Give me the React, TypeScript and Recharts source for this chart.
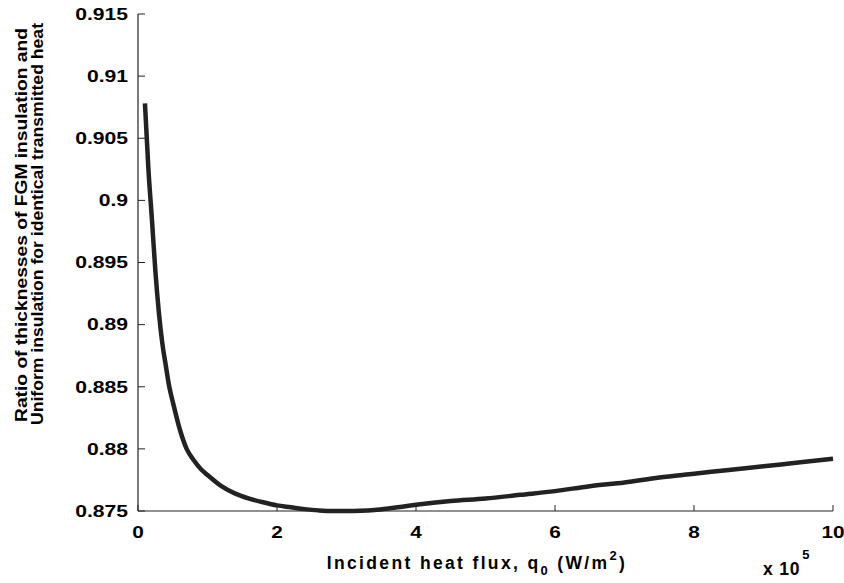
import React from "react";
import { LineChart, Line, XAxis, YAxis, Label } from "recharts";

// incident heat flux (x 10^5 W/m^2)
const fluxValues = [
  0.1, 0.15, 0.2, 0.25, 0.3, 0.35, 0.4, 0.45, 0.5, 0.6, 0.7, 0.8, 0.9, 1.0,
  1.2, 1.4, 1.6, 1.8, 2.0, 2.2, 2.4, 2.6, 2.8, 3.0, 3.2, 3.4, 3.6, 3.8, 4.0,
  4.5, 5.0, 5.5, 6.0, 6.5, 7.0, 7.5, 8.0, 8.5, 9.0, 9.5, 10.0,
];

// thickness ratio FGM / uniform
const ratioValues = [
  0.9078, 0.9025, 0.8985, 0.8943, 0.891, 0.8885, 0.8867, 0.885, 0.8838,
  0.8816, 0.88, 0.8791, 0.8784, 0.8779, 0.877, 0.8764, 0.876, 0.8757,
  0.87545, 0.8753, 0.87515, 0.87505, 0.875, 0.875, 0.87502, 0.87508, 0.8752,
  0.87535, 0.8755, 0.8758, 0.876, 0.8763, 0.8766, 0.877, 0.8773, 0.8777,
  0.878, 0.8783, 0.8786, 0.8789, 0.8792,
];

const xTicks = [0, 2, 4, 6, 8, 10];
const yTicks = [0.875, 0.88, 0.885, 0.89, 0.895, 0.9, 0.905, 0.91, 0.915];

const data = fluxValues.map((q, i) => ({ q, ratio: ratioValues[i] }));

const font = "'Liberation Sans', Arial, sans-serif";

// the original lettering is wide and heavy, so stretch it a bit horizontally
function YTick({ x, y, payload }: any) {
  return (
    <text
      transform={`translate(${x},${y}) scale(1.32,1)`}
      textAnchor="end"
      dy="0.36em"
      fontFamily={font}
      fontWeight={700}
      fontSize={16}
      fill="#000"
    >
      {String(payload.value)}
    </text>
  );
}

function XTick({ x, y, payload }: any) {
  return (
    <text
      transform={`translate(${x},${y + 14}) scale(1.3,1)`}
      textAnchor="middle"
      fontFamily={font}
      fontWeight={700}
      fontSize={16}
      fill="#000"
    >
      {String(payload.value)}
    </text>
  );
}

function XTitle() {
  return (
    <g fontFamily={font} fontWeight={700} fill="#000">
      <text x={477} y={569} fontSize={17.5} letterSpacing={2.35} textAnchor="middle">
        Incident heat flux, q
        <tspan fontSize={13} dy={6}>0</tspan>
        <tspan dy={-6}> (W/m</tspan>
        <tspan fontSize={13} dy={-9}>2</tspan>
        <tspan dy={9}>)</tspan>
      </text>
      <text x={763} y={575} fontSize={17.5} letterSpacing={0.8}>
        x 10
        <tspan fontSize={13} dx={2} dy={-16}>5</tspan>
      </text>
    </g>
  );
}

function YTitle() {
  return (
    <g fontFamily={font} fontWeight={700} fill="#000" fontSize={17}>
      <text
        x={27}
        y={225}
        textAnchor="middle"
        textLength={394}
        lengthAdjust="spacingAndGlyphs"
        transform="rotate(-90 27 225)"
      >
        Ratio of thicknesses of FGM insulation and
      </text>
      <text
        x={43}
        y={224}
        textAnchor="middle"
        textLength={402}
        lengthAdjust="spacingAndGlyphs"
        transform="rotate(-90 43 224)"
      >
        Uniform insulation for identical transmitted heat
      </text>
    </g>
  );
}

export default function App() {
  return (
    <div style={{ position: "absolute", left: 0, top: 0, background: "#fff" }}>
      <LineChart
        width={844}
        height={583}
        data={data}
        margin={{ top: 14, right: 11, bottom: 0, left: 0 }}
      >
        <XAxis
          dataKey="q"
          type="number"
          domain={[0, 10]}
          ticks={xTicks}
          tick={<XTick />}
          tickSize={-6}
          tickMargin={19}
          height={72}
          axisLine={{ stroke: "#222", strokeWidth: 1.2 }}
          tickLine={{ stroke: "#222" }}
        >
          <Label content={() => <XTitle />} />
        </XAxis>
        <YAxis
          type="number"
          domain={[0.875, 0.915]}
          ticks={yTicks}
          tick={<YTick />}
          tickSize={-7}
          tickMargin={17}
          width={138}
          axisLine={{ stroke: "#222", strokeWidth: 1.2 }}
          tickLine={{ stroke: "#222" }}
        >
          <Label content={() => <YTitle />} />
        </YAxis>
        <Line
          type="monotone"
          dataKey="ratio"
          stroke="#222"
          strokeWidth={4.5}
          dot={false}
          isAnimationActive={false}
        />
      </LineChart>
    </div>
  );
}
